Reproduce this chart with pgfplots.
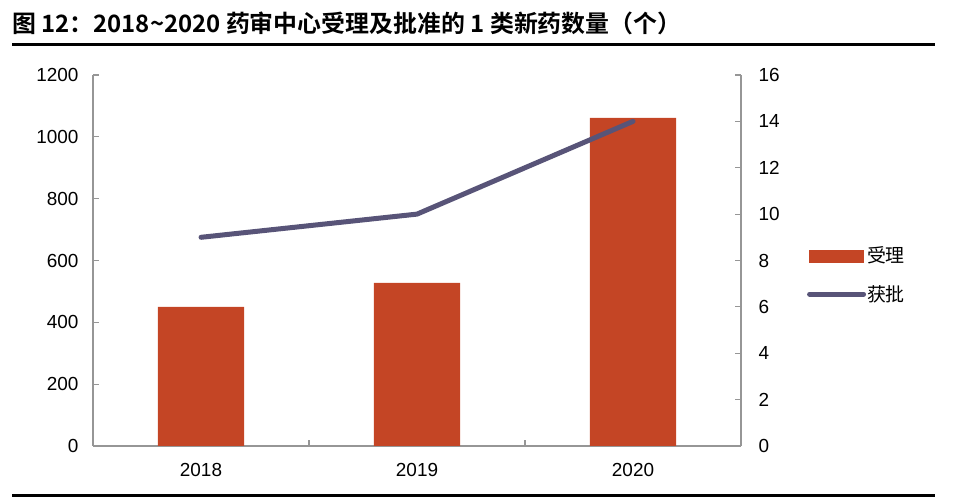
\documentclass[border=0pt]{standalone}
\usepackage{pgfplots}
\pgfplotsset{compat=1.18}
\usepackage{fontspec}
\setmainfont{Liberation Sans}
\newfontfamily\cjk{Noto Sans CJK SC}
\newfontfamily\cjkb{Noto Sans CJK SC Bold}
\definecolor{barc}{RGB}{196,69,37}
\definecolor{linec}{RGB}{88,84,120}
\definecolor{axc}{RGB}{150,150,150}
\begin{document}
\begin{tikzpicture}[x=1bp,y=1bp]
\path[use as bounding box] (0,0) rectangle (970,502);
\node[anchor=west,inner sep=0pt] at (12,479) {\cjkb\fontsize{24}{26}\selectfont 图 12：2018\textasciitilde2020 药审中心受理及批准的 1 类新药数量（个）};
\draw[black,line width=3bp] (12,457) -- (935,457);
\draw[black,line width=3bp] (12,6) -- (935,6);
\begin{axis}[
  at={(93bp,56bp)}, anchor=south west,
  scale only axis, width=648bp, height=371bp,
  xmin=-0.5, xmax=2.5, ymin=0, ymax=1200,
  axis x line*=bottom, axis y line*=left,
  axis line style={axc, line width=1.2bp, -},
  tick align=inside,
  xtick={0,1,2}, xticklabels={2018,2019,2020},
  major x tick style={draw=none},
  minor xtick={-0.5,0.5,1.5,2.5},
  minor tick length=6bp, major tick length=6bp,
  every tick/.style={axc, line width=1.2bp},
  ytick={0,200,...,1200},
  /pgf/number format/assume math mode=true,
  /pgf/number format/1000 sep={},
  tick label style={font=\fontsize{19}{21}\selectfont},
  yticklabel style={xshift=-11bp},
  xticklabel style={yshift=-14bp},
]
\addplot[ybar, bar width=0.4, fill=barc, draw=none] coordinates {(0,450) (1,528) (2,1061)};
\end{axis}
\begin{axis}[
  at={(93bp,56bp)}, anchor=south west,
  scale only axis, width=648bp, height=371bp,
  xmin=-0.5, xmax=2.5, ymin=0, ymax=16,
  axis x line=none, axis y line*=right,
  axis line style={axc, line width=1.2bp, -},
  tick align=inside, major tick length=6bp,
  every tick/.style={axc, line width=1.2bp},
  ytick={0,2,...,16},
  /pgf/number format/assume math mode=true,
  tick label style={font=\fontsize{19}{21}\selectfont},
  yticklabel style={xshift=14bp},
  legend style={at={(1.097,0.545)}, anchor=north west, draw=none, fill=none,
    font=\cjk\fontsize{19}{21}\selectfont, row sep=19bp,
    nodes={inner sep=1bp}},
  legend cell align=left,
]
\addlegendimage{legend image code/.code={\fill[barc] (0bp,-6bp) rectangle (54bp,6bp);}}
\addlegendentry{受理}
\addplot[linec, line width=5bp, line cap=round, line join=round,
  legend image code/.code={\draw[linec, line width=5bp, line cap=round] (0bp,0bp) -- (54bp,0bp);}]
  coordinates {(0,9) (1,10) (2,14)};
\addlegendentry{获批}
\end{axis}
\end{tikzpicture}
\end{document}
